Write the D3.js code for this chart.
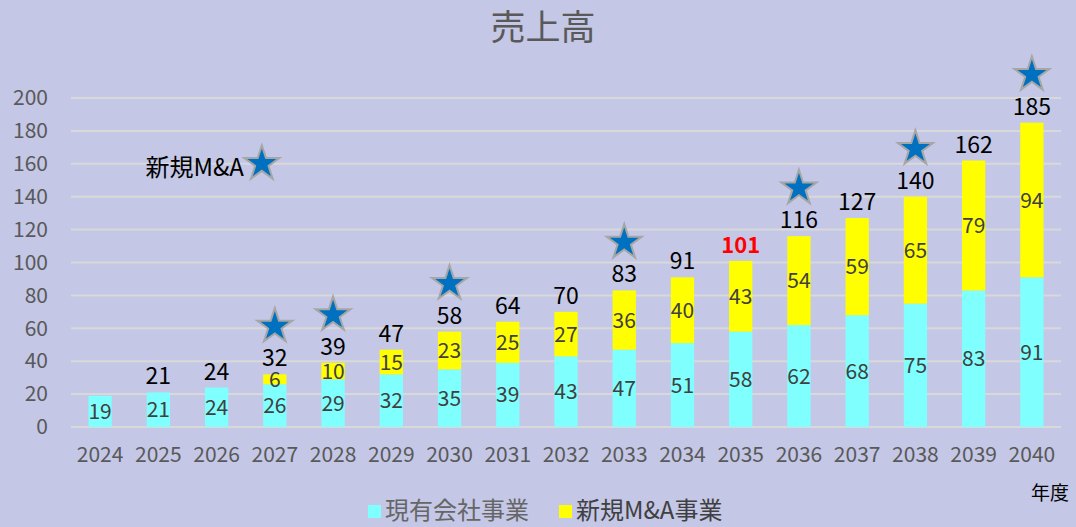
<!DOCTYPE html>
<html><head><meta charset="utf-8">
<script src="https://cdn.jsdelivr.net/npm/d3@7"></script>
<style>
html,body{margin:0;padding:0;background:#C4C7E5;}
svg{display:block;}
text{font-family:"Noto Sans CJK JP","Noto Sans",sans-serif;}
</style></head>
<body>
<svg id="chart" width="1076" height="527"></svg>
<script>
const years = ["2024","2025","2026","2027","2028","2029","2030","2031","2032","2033","2034","2035","2036","2037","2038","2039","2040"];
const existing = [19,21,24,26,29,32,35,39,43,47,51,58,62,68,75,83,91];
const newMA = [0,0,0,6,10,15,23,25,27,36,40,43,54,59,65,79,94];
const totals = [null,21,24,32,39,47,58,64,70,83,91,101,116,127,140,162,185];
const highlightYear = "2035";
const starYears = ["2027","2028","2030","2033","2036","2038","2040"];
const yTicks = [0,20,40,60,80,100,120,140,160,180,200];
const seriesNames = ["現有会社事業","新規M&A事業"];
const title = "売上高";
const xAxisTitle = "年度";
const annotation = "新規M&A";

const colors = ["#80FFFF","#FFFF00"];
const svg = d3.select("#chart");
const W = 1076, H = 527;
svg.append("rect").attr("width",W).attr("height",H).attr("fill","#C4C7E5");

const x = d3.scaleBand().domain(years).range([71,1061]).paddingInner(0.6).paddingOuter(0.3);
const y = d3.scaleLinear().domain([0,200]).range([427,98]);

// gridlines
svg.append("g").selectAll("line").data(yTicks).join("line")
  .attr("x1",71).attr("x2",1061)
  .attr("y1",d=>y(d)).attr("y2",d=>y(d))
  .attr("stroke","#D9D9D9").attr("stroke-width",2);

// y axis labels
const yAxis = d3.axisLeft(y).tickValues(yTicks).tickSize(0).tickPadding(0);
const gy = svg.append("g").attr("transform","translate(48,0)").call(yAxis);
gy.select(".domain").remove();
gy.selectAll("text").attr("font-size",21).attr("fill","#595959")
  .attr("font-family",'"Noto Sans CJK JP",sans-serif');

// x axis labels
const xAxis = d3.axisBottom(x).tickSize(0).tickPadding(0);
const gx = svg.append("g").attr("transform","translate(0,447)").call(xAxis);
gx.select(".domain").remove();
gx.selectAll("text").attr("font-size",21).attr("fill","#595959")
  .attr("font-family",'"Noto Sans CJK JP",sans-serif');

// stacked data
const rows = years.map((yr,i)=>({year:yr, existing:existing[i], newMA:newMA[i], total:totals[i]}));
const stack = d3.stack().keys(["existing","newMA"])(rows);

const layers = svg.append("g").selectAll("g").data(stack).join("g")
  .attr("fill",(d,i)=>colors[i]);
layers.selectAll("rect").data(d=>d).join("rect")
  .attr("x",d=>x(d.data.year))
  .attr("width",x.bandwidth())
  .attr("y",d=>y(d[1]))
  .attr("height",d=>y(d[0])-y(d[1]));

// segment labels
layers.each(function(layer){
  d3.select(this).selectAll("text").data(layer.filter(d=>d[1]-d[0]>0)).join("text")
    .attr("x",d=>x(d.data.year)+x.bandwidth()/2)
    .attr("y",d=>y((d[0]+d[1])/2))
    .attr("dy","0.36em")
    .attr("text-anchor","middle")
    .attr("font-size",21)
    .attr("fill","#404040")
    .text(d=>d[1]-d[0]);
});

// total labels
svg.append("g").selectAll("text").data(rows.filter(r=>r.total!=null)).join("text")
  .attr("x",d=>x(d.year)+x.bandwidth()/2)
  .attr("y",d=>y(d.existing+d.newMA)-8)
  .attr("text-anchor","middle")
  .attr("font-size",d=>d.year===highlightYear?22:23)
  .attr("font-weight",d=>d.year===highlightYear?"bold":"normal")
  .attr("fill",d=>d.year===highlightYear?"#FF0000":"#000000")
  .text(d=>d.total);

// stars
const star = d3.symbol().type(d3.symbolStar).size(380);
svg.append("g").selectAll("path").data(rows.filter(r=>starYears.includes(r.year))).join("path")
  .attr("d",star)
  .attr("transform",d=>`translate(${x(d.year)+x.bandwidth()/2},${y(d.existing+d.newMA)-48})`)
  .attr("fill","#0070C0").attr("stroke","#A6A6A6").attr("stroke-width",2).attr("stroke-linejoin","miter");

// annotation
const annX = x("2027")+x.bandwidth()/2 - 13;
svg.append("path").attr("d",star)
  .attr("transform",`translate(${annX},${y(160)})`)
  .attr("fill","#0070C0").attr("stroke","#A6A6A6").attr("stroke-width",2);
svg.append("text").attr("x",annX-18).attr("y",y(160)+12)
  .attr("text-anchor","end").attr("font-size",24).attr("fill","#000")
  .text(annotation);

// title
svg.append("text").attr("x",543).attr("y",40).attr("text-anchor","middle")
  .attr("font-size",35).attr("fill","#595959").text(title);

// x axis title
svg.append("text").attr("x",1069).attr("y",500).attr("text-anchor","end")
  .attr("font-size",19).attr("fill","#000").text(xAxisTitle);

// legend
const legend = svg.append("g");
const legItems = [{name:seriesNames[0],color:colors[0],x:368,tc:"#666666"},{name:seriesNames[1],color:colors[1],x:559,tc:"#404040"}];
legItems.forEach(it=>{
  legend.append("rect").attr("x",it.x).attr("y",505).attr("width",13).attr("height",13).attr("fill",it.color);
  legend.append("text").attr("x",it.x+17).attr("y",519).attr("font-size",24).attr("fill",it.tc).text(it.name);
});
</script>
</body></html>
